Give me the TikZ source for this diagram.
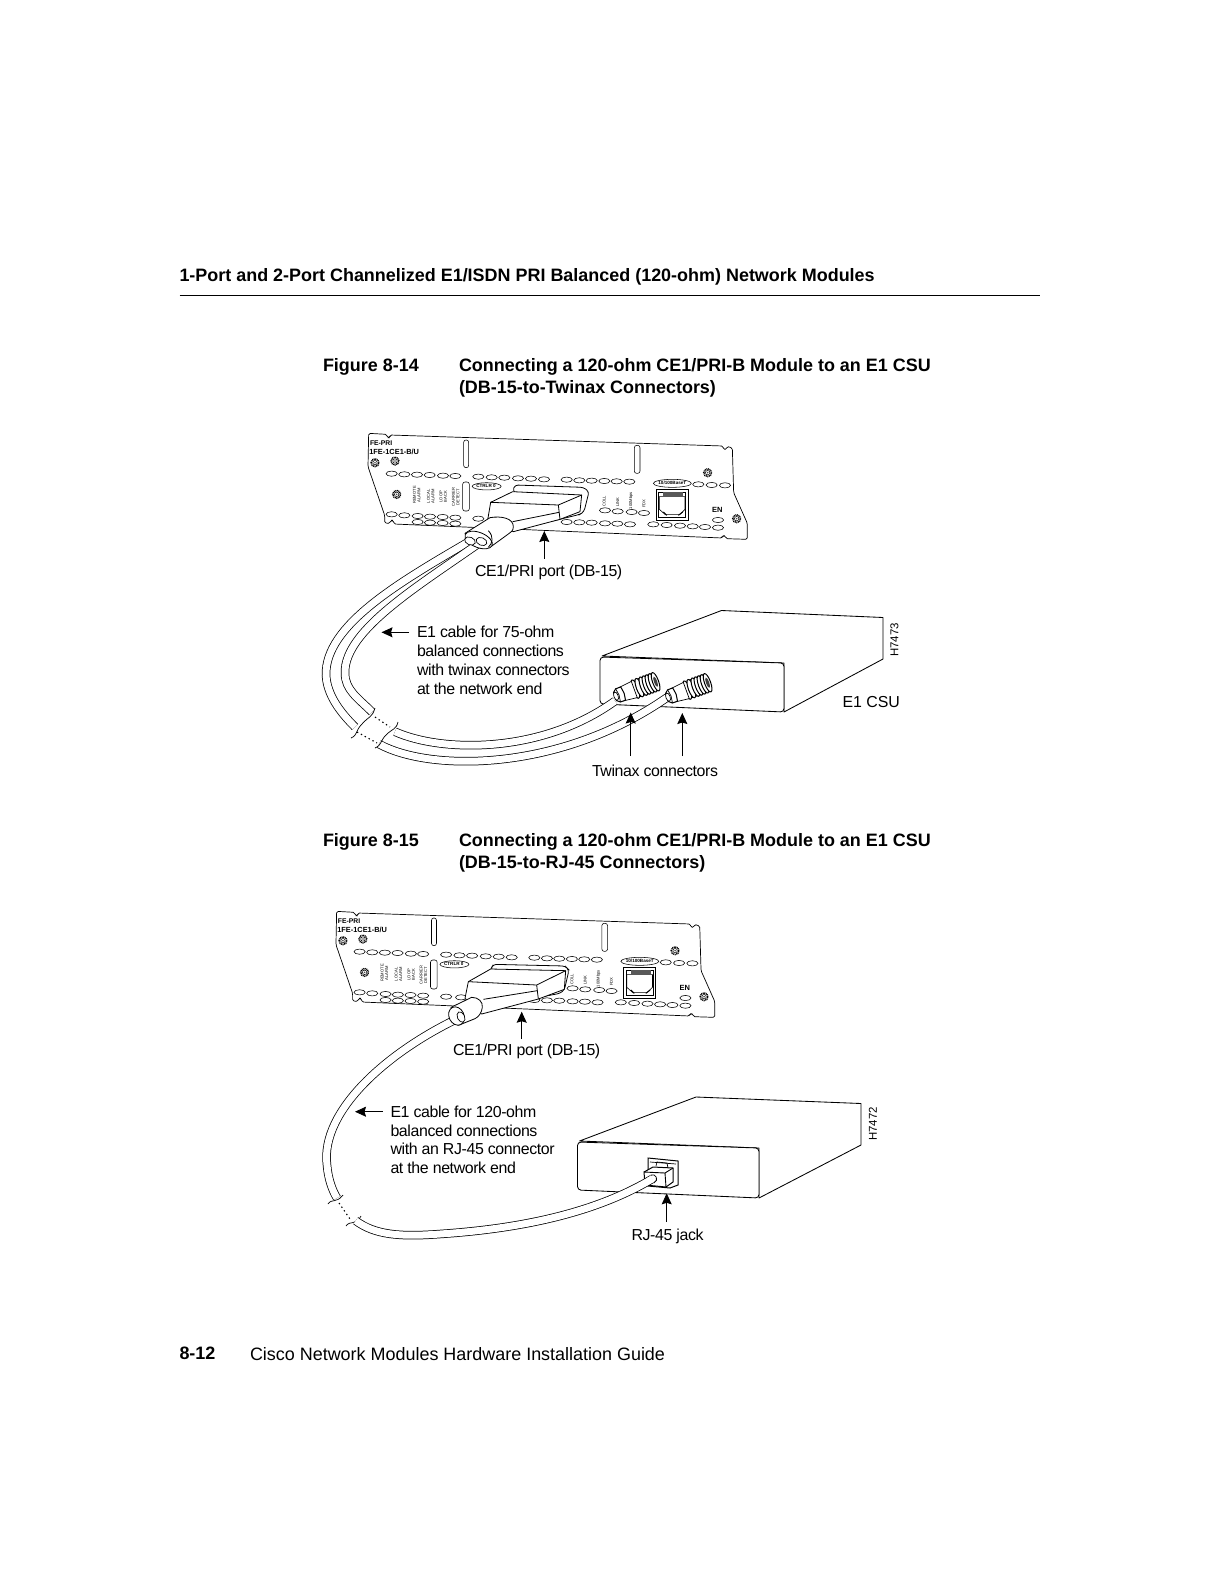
\documentclass[tikz,border=0pt]{standalone}
\usepackage{fontspec}
\setmainfont{Liberation Sans}
\newfontfamily\tightfont[LetterSpace=-2.4]{Liberation Sans}
\usetikzlibrary{arrows.meta}
\tikzset{
  ink/.style={draw=black,line width=.7pt},
  led/.style={draw=black,line width=.55pt,fill=white},
  hoodface/.style={draw=black,line width=.8pt,fill=white,line join=round},
  cable/.style={draw=black,double=white,double distance=7pt,line width=.75pt},
  pointer/.style={draw=black,line width=.9pt,-{Stealth[length=11pt,width=10pt,inset=1.5pt]}},
  inset0/.style={inner sep=0pt,outer sep=0pt},
  lbl/.style={inset0,anchor=base west,font=\tightfont\fontsize{15.9}{18.7}\selectfont,text=black},
  head/.style={inset0,anchor=base west,font=\fontsize{17.95}{22}\bfseries\selectfont},
  tiny/.style={inset0,font=\fontsize{4.1}{4.5}\selectfont,rotate=90,align=center,text=black},
  paneltext/.style={inset0,anchor=base west,font=\fontsize{6.8}{8}\bfseries\selectfont},
  wave/.style={draw=black,line width=.7pt},
  dots/.style={draw=black,line width=1.1pt,dash pattern=on 1.4pt off 3pt}
}
% -------- network module faceplate, drawn in 3x coordinates
\newcommand{\faceplate}[4]{%
\begin{scope}[shift={(#2,#3)},x=#4,y=-0.33333pt]
  \draw[ink,fill=white,rounded corners=1.5pt]
    (56,22) -- (110,25) -- (112,35) -- (120,35) -- (120,27) -- (1119,60) -- (1120,70) -- (1130,70) -- (1131,61)
    -- (1147,66) -- (1151,200) -- (1192,292) -- (1192,340) -- (1128,338) -- (1126,329) -- (1118,329) -- (1116,336)
    -- (132,294) -- (130,283) -- (122,283) -- (120,292) -- (104,291) -- (104,268) -- (54,122) -- cycle;
  \foreach \x/\y in {125/143,163/145,201/146,239/147,279/149,316/150,
      385/152,425/154,463/155,504/157,543/158,582/160,
      650/161,688/163,725/164,763/165,800/166,838/167,
      1045/175,1085/177,1125/178,
      125/265,163/268,203/270,240/272,278/273,316/275,
      203/288,240/290,278/291,316/293,
      385/278,430/280,
      650/288,688/289,725/290,765/292,802/293,840/295,
      765/253,803/256,845/258,882/261,
      910/295,950/297,990/299,1028/301,1065/303,1104/305,1104/282}
    \draw[led] (\x,\y) ellipse [x radius=5.6pt,y radius=2.6pt];
  \foreach \a/\b/\c/\d in {341/42/356/125,853/58/870/142,338/168/358/255}
    \draw[led,rounded corners=2.3pt] (\a,\b) rectangle (\c,\d);
  \foreach \x/\y in {75/110,135/105,140/205,1073/140,1160/278}{
    \draw[draw=black,line width=1.5pt,dash pattern=on .9pt off .7pt] (\x,\y) circle (3.9pt);
    \draw[draw=black,line width=.5pt] (\x,\y) circle (2.2pt);
    \fill[black!70] (\x,\y) circle (.9pt);}
  \draw[led] (410,181) ellipse [x radius=14.5pt,y radius=3.6pt];
  \node[inset0,font=\fontsize{4.6}{5}\bfseries\selectfont] (#1ctrlr) at (408,181) {CTRLR 0};
  \draw[led] (967,172) ellipse [x radius=19pt,y radius=4pt];
  \node[inset0,font=\fontsize{4.6}{5}\bfseries\selectfont] (#1base) at (967,172) {10/100BaseT};
  \draw[draw=black,line width=.9pt,fill=white] (918,190) rectangle (1015,282);
  \draw[led] (926,198) rectangle (1007,274);
  \fill[black!65] (940,199) rectangle (1000,209);
  \draw[draw=black,line width=.6pt] (928,212) -- (1005,212) -- (1005,250) -- (990,265) -- (945,265) -- (928,250) -- cycle;
  \draw[draw=black,line width=1pt] (940,258) -- (950,268) (985,268) -- (998,258);
  \node[paneltext] (#1fe) at (60,58) {FE-PRI};
  \node[paneltext,font=\fontsize{7.4}{8}\bfseries\selectfont] (#1type) at (58,86) {1FE-1CE1-B/U};
  \node[paneltext,anchor=center,font=\fontsize{7.5}{8}\bfseries\selectfont] (#1en) at (1102,252) {EN};
  \node[tiny] (#1ra) at (200,207) {REMOTE\\ALARM};
  \node[tiny] (#1la) at (242,211) {LOCAL\\ALARM};
  \node[tiny] (#1lb) at (280,212) {LOOP\\BACK};
  \node[tiny] (#1cd) at (317,213) {CARRIER\\DETECT};
  \node[tiny] (#1co) at (763,226) {COLL};
  \node[tiny] (#1li) at (803,229) {LINK};
  \node[tiny] (#1mb) at (843,224) {100Mbps};
  \node[tiny] (#1fd) at (882,233) {FDX};
\end{scope}}
% -------- CSU box
\newcommand{\csubox}[8]{% front TL x,y  front BR x,y  back TL x,y  back R x,y
  \draw[ink,fill=white,line width=.85pt,line join=round]
     (#1+2,#2-1) -- (#5,#6) -- (#7,#8) -- (#7,#8+41.5) -- (#3,#4) -- (#3,#2+6) -- cycle;
  \draw[ink,line width=.85pt,fill=white,rounded corners=3.5pt] (#1,#2) -- (#3,#2+6) -- (#3,#4) -- (#1,#4-8) -- cycle;
}
% -------- twinax connector
\newcommand{\twinax}[2]{%
\begin{scope}[shift={(#1,#2)},rotate=20,scale=1.08]
  \draw[ink,fill=white] (20,-8) -- (40,-8.5) -- (40,8.5) -- (20,8) -- cycle;
  \foreach \t in {20,24,28,31,34,37,40}
    \draw[draw=black,line width=1pt,fill=white] (\t,0) ellipse [x radius=2.8pt,y radius=9pt];
  \fill[black!75] (40,0) ellipse [x radius=1.5pt,y radius=5pt];
  \draw[ink,fill=white] (6,-6.5) -- (19,-8) -- (19,8) -- (6,6.5) -- cycle;
  \draw[draw=black,line width=1pt,fill=white] (0,-4) -- (3,-6.5) -- (8,-6.5) -- (9,0) -- (8,6.5) -- (3,6.5) -- (0,4) -- cycle;
  \draw[ink] (3,-6.5) -- (4,0) -- (3,6.5);
  \draw[ink,fill=white] (1,0) ellipse [x radius=2pt,y radius=4pt];
\end{scope}}
\begin{document}
\begin{tikzpicture}[x=1pt,y=-1pt]
\useasboundingbox (0,0) rectangle (1219,1582);
\fill[white] (0,0) rectangle (1219,1582);

% ---------- page furniture
\node[head] (title) at (179.5,281.5) {1-Port and 2-Port Channelized E1/ISDN PRI Balanced (120-ohm) Network Modules};
\coordinate (ruleL) at (179.5,295.8);
\coordinate (ruleR) at (1039.5,295.8);
\draw[draw=black,line width=1pt] (ruleL) -- (ruleR);
\node[head] (figa) at (323,371) {Figure 8-14};
\node[head] (figat) at (459,371) {Connecting a 120-ohm CE1/PRI-B Module to an E1 CSU};
\node[head] (figab) at (459,393) {(DB-15-to-Twinax Connectors)};
\node[head] (figb) at (323,846.5) {Figure 8-15};
\node[head] (figbt) at (459,846.5) {Connecting a 120-ohm CE1/PRI-B Module to an E1 CSU};
\node[head] (figbb) at (459,868.5) {(DB-15-to-RJ-45 Connectors)};
\node[head] (pageno) at (179.5,1359.5) {8-12};
\node[lbl,font=\fontsize{17.95}{22}\selectfont] (guide) at (250,1360) {Cisco Network Modules Hardware Installation Guide};

% ================= FIGURE 8-14
\faceplate{a}{350}{426}{0.33333pt}
\csubox{600}{657}{784}{712}{721.5}{610.5}{883}{617.5}

% cables (two)
\coordinate (ha) at (470,541); \coordinate (hb) at (481.5,541.5);
\coordinate (ca) at (355,727); \coordinate (cb) at (372,712);
\coordinate (cc) at (395,731.7); \coordinate (cd) at (379,744);
\coordinate (ce) at (615,701); \coordinate (cf) at (667,697.5);
\draw[cable] (ha) .. controls (400,582) and (325,625) .. (326,675) .. controls (327,695) and (340,712) .. (ca);
\draw[cable] (hb) .. controls (420,585) and (344,630) .. (345,673) .. controls (345,690) and (358,698) .. (cb);
\draw[cable] (cc) .. controls (440,752) and (540,755) .. (ce);
\draw[cable] (cd) .. controls (430,772) and (560,772) .. (cf);

% breaks
\coordinate (wa1) at (351,738); \coordinate (wa2) at (375,708);
\coordinate (wb1) at (375,748); \coordinate (wb2) at (398,722);
\draw[wave] (wa1) .. controls (358,735) and (355,731) .. (362,724) .. controls (369,716) and (372,718) .. (wa2);
\draw[wave] (wb1) .. controls (382,745) and (380,741) .. (386,735) .. controls (393,728) and (396,730) .. (wb2);
\coordinate (da1) at (375,717); \coordinate (da2) at (390,727);
\coordinate (db1) at (357,732); \coordinate (db2) at (377,743);
\draw[dots] (da1) -- (da2);
\draw[dots] (db1) -- (db2);

% twinax connectors
\twinax{615}{696.5}
\twinax{667}{697.5}

% DB-15 hood, figure 8-14 (3x coordinates)
\begin{scope}[shift={(350,425)},x=0.33333pt,y=-0.33333pt]
  \draw[led,line width=.8pt,rounded corners=3pt] (488,197) -- (495,180) -- (700,187) -- (717,200) -- (702,260) -- (690,268) -- (600,290) -- cycle;
  \draw[hoodface] (422,232) -- (488,200) -- (695,210) -- (690,260) -- (630,283) -- (490,320) -- (413,285) -- cycle;
  \draw[draw=black,line width=.8pt] (422,232) -- (625,240) -- (695,210);
  \draw[draw=black,line width=.8pt] (625,240) -- (630,283);
  \draw[draw=black,line width=.8pt] (627,262) -- (488,290);
  \draw[hoodface] (420,278) .. controls (455,272) and (490,280) .. (490,305)
     .. controls (490,318) and (482,322) .. (475,327) -- (420,367) -- (345,325) -- cycle;
  \draw[hoodface,rotate around={-22:(386,345)}] (386,345) ellipse [x radius=14.5pt,y radius=7.5pt];
  \draw[draw=black,line width=.8pt] (415,317) .. controls (432,335) and (428,355) .. (415,367);
\end{scope}
\draw[ink,fill=white,rotate around={-22:(ha)}] (ha) ellipse [x radius=5.6pt,y radius=3.8pt];
\draw[ink,fill=white,rotate around={-22:(hb)}] (hb) ellipse [x radius=5.6pt,y radius=3.8pt];

% labels and pointers, figure 8-14
\node[lbl] (portA) at (475,576) {CE1/PRI port (DB-15)};
\coordinate (portAt) at (544.3,531); \coordinate (portAb) at (544.3,558.5);
\draw[pointer] (portAb) -- (portAt);
\node[lbl] (c1) at (417,637.5) {E1 cable for 75-ohm};
\node[lbl] (c2) at (417,656.5) {balanced connections};
\node[lbl] (c3) at (417,675.5) {with twinax connectors};
\node[lbl] (c4) at (417,694.5) {at the network end};
\coordinate (arrAt) at (381.5,632.3); \coordinate (arrAb) at (409,632.3);
\draw[pointer] (arrAb) -- (arrAt);
\node[lbl,font=\fontsize{15.9}{18.7}\selectfont] (csuA) at (842.5,707) {E1 CSU};
\node[lbl,anchor=center,rotate=90,font=\fontsize{11.4}{14}\selectfont] (hA) at (894.5,640) {H7473};
\node[lbl] (twx) at (592,776.5) {Twinax connectors};
\coordinate (t1t) at (630.7,712.5); \coordinate (t1b) at (630.7,756);
\coordinate (t2t) at (682.3,713); \coordinate (t2b) at (682.3,756);
\draw[pointer] (t1b) -- (t1t);
\draw[pointer] (t2b) -- (t2t);

% ================= FIGURE 8-15
\faceplate{b}{318}{904}{0.3328pt}
\csubox{577.5}{1142}{759}{1198}{696}{1097}{861}{1103.5}

\coordinate (hf) at (461,1017);
\coordinate (ck) at (337,1198);
\coordinate (cl) at (355.7,1220.7);
\coordinate (cm) at (652,1179);
\draw[cable] (hf) .. controls (390,1050) and (320,1110) .. (327,1165) .. controls (328,1178) and (332,1190) .. (ck);
\coordinate (wc1) at (328,1204); \coordinate (wc2) at (343,1195);
\coordinate (wd1) at (346,1226); \coordinate (wd2) at (361,1216);
\draw[wave] (wc1) .. controls (332,1198) and (336,1204) .. (wc2);
\draw[wave] (wd1) .. controls (350,1220) and (356,1226) .. (wd2);
\coordinate (de1) at (339,1203); \coordinate (de2) at (350,1219);
\draw[dots] (de1) -- (de2);

% RJ-45 jack and plug
\draw[draw=black,line width=1pt,fill=white] (648,1158) -- (678,1161) -- (678,1185) -- (670,1188) -- (648,1186) -- cycle;
\draw[ink] (650,1162) -- (676,1164);
\draw[ink] (656,1166) -- (657,1162) -- (667,1163) -- (668,1168);
\draw[draw=black,line width=1pt,fill=white] (644,1172) -- (653,1167) -- (673,1168) -- (673,1182) -- (666,1187) -- (645,1185) -- cycle;
\draw[draw=black,line width=.9pt] (644,1172) -- (665,1173) -- (673,1168) (665,1173) -- (666,1187);
\draw[cable] (cl) .. controls (375,1235) and (400,1237) .. (440,1234) .. controls (530,1228) and (600,1210) .. (cm);
\draw[draw=black,line width=.8pt,fill=white] (650.3,1175.2) .. controls (656,1172.5) and (659.5,1180.5) .. (653.7,1183);
\fill[white] (650.6,1176) -- (653.4,1182.2) -- (650,1183) -- (647,1178) -- cycle;

% DB-15 hood, figure 8-15 (3x coordinates)
\begin{scope}[shift={(325,900)},x=0.33333pt,y=-0.33333pt]
  \draw[led,line width=.8pt,rounded corners=3pt] (497,208) -- (505,193) -- (720,198) -- (732,210) -- (718,270) -- (705,280) -- (600,300) -- cycle;
  \draw[hoodface] (430,245) -- (497,207) -- (722,212) -- (718,268) -- (640,297) -- (470,342) -- (420,295) -- cycle;
  \draw[draw=black,line width=.8pt] (430,245) -- (635,255) -- (722,212);
  \draw[draw=black,line width=.8pt] (635,255) -- (640,297);
  \draw[draw=black,line width=.8pt] (637,272) -- (475,298);
  \draw[hoodface] (440,292) .. controls (460,292) and (474,305) .. (472,322)
     .. controls (470,338) and (462,350) .. (450,356) -- (400,376) -- (378,322) -- cycle;
\end{scope}
\coordinate (he) at (456.5,1016);
\draw[hoodface,rotate around={25:(he)}] (he) ellipse [x radius=7.5pt,y radius=9.5pt];
\draw[ink,fill=white,rotate around={25:(hf)}] (hf) ellipse [x radius=3.6pt,y radius=5.5pt];

\node[lbl] (portB) at (453,1055.5) {CE1/PRI port (DB-15)};
\coordinate (portBt) at (521.7,1011.7); \coordinate (portBb) at (521.7,1039);
\draw[pointer] (portBb) -- (portBt);
\node[lbl] (d1) at (390.5,1117.5) {E1 cable for 120-ohm};
\node[lbl] (d2) at (390.5,1136.5) {balanced connections};
\node[lbl] (d3) at (390.5,1154.5) {with an RJ-45 connector};
\node[lbl] (d4) at (390.5,1173) {at the network end};
\coordinate (arrBt) at (355,1111.7); \coordinate (arrBb) at (382.7,1111.7);
\draw[pointer] (arrBb) -- (arrBt);
\node[lbl,anchor=center,rotate=90,font=\fontsize{11.4}{14}\selectfont] (hB) at (873,1124) {H7472};
\node[lbl] (rj) at (631.5,1240.5) {RJ-45 jack};
\coordinate (rjt) at (666.7,1193.3); \coordinate (rjb) at (666.7,1222);
\draw[pointer] (rjb) -- (rjt);
\end{tikzpicture}
\end{document}
